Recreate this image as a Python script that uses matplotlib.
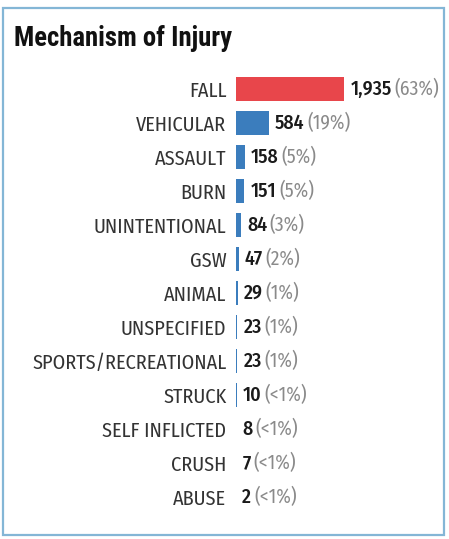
import matplotlib
matplotlib.use('Agg')
import matplotlib.pyplot as plt
from matplotlib.patches import Rectangle

CATEGORIES = ['FALL', 'VEHICULAR', 'ASSAULT', 'BURN', 'UNINTENTIONAL', 'GSW',
              'ANIMAL', 'UNSPECIFIED', 'SPORTS/RECREATIONAL', 'STRUCK',
              'SELF INFLICTED', 'CRUSH', 'ABUSE']
COUNTS = [1935, 584, 158, 151, 84, 47, 29, 23, 23, 10, 8, 7, 2]
PERCENTS = ['63%', '19%', '5%', '5%', '3%', '2%', '1%', '1%', '1%',
            '<1%', '<1%', '<1%', '<1%']

RED = '#e8464b'
BLUE = '#3b7dbd'
LABEL_FONT = ['Fira Sans Condensed', 'DejaVu Sans']
TITLE_FONT = ['Roboto Condensed', 'DejaVu Sans']
W, H = 449, 539

fig = plt.figure(figsize=(W / 100, H / 100), dpi=100)
fig.patch.set_facecolor('white')

# outer card border
fig.patches.append(Rectangle((3 / W, 4 / H), 441 / W, 527 / H, transform=fig.transFigure,
                             facecolor='none', edgecolor='#84b6d6', linewidth=1.6, zorder=5))

fig.text(14 / W, 1 - 38 / H, 'Mechanism of Injury', fontsize=19.3, fontweight='bold',
         family=TITLE_FONT, color='#111111', va='center', ha='left')

# axes: x=0 at px 236, 1935 at px 344; rows centred at 90 + 34*i
x0, x1 = 236, 444
xmax = (x1 - x0) / 108 * 1935
top, bot = 72, 514
ax = fig.add_axes([x0 / W, (H - bot) / H, (x1 - x0) / W, (bot - top) / H])
n = len(CATEGORIES)
ys = list(range(n))
colors = [RED] + [BLUE] * (n - 1)
ax.barh(ys, COUNTS, height=0.68, color=colors)
ax.set_xlim(0, xmax)
ax.set_ylim(n - 0.5, -0.5)
ax.set_yticks(ys)
ax.set_yticklabels(CATEGORIES, family=LABEL_FONT, fontsize=14.5, color='#333333')
ax.tick_params(axis='y', length=0, pad=7)
ax.set_xticks([])
for s in ax.spines.values():
    s.set_visible(False)

for y, c, p in zip(ys, COUNTS, PERCENTS):
    t = ax.annotate(f'{c:,}', xy=(c, y), xytext=(4.5, 0), textcoords='offset points',
                    va='center', ha='left', fontsize=14.3, family=LABEL_FONT,
                    fontweight='medium', color='#1a1a1a')
    ax.annotate(f'({p})', xy=(1, 0.5), xycoords=t, xytext=(2, 0),
                textcoords='offset points', va='center', ha='left',
                fontsize=14, family=LABEL_FONT, color='#8a8a8a')

fig.savefig('out.png', dpi=100)
